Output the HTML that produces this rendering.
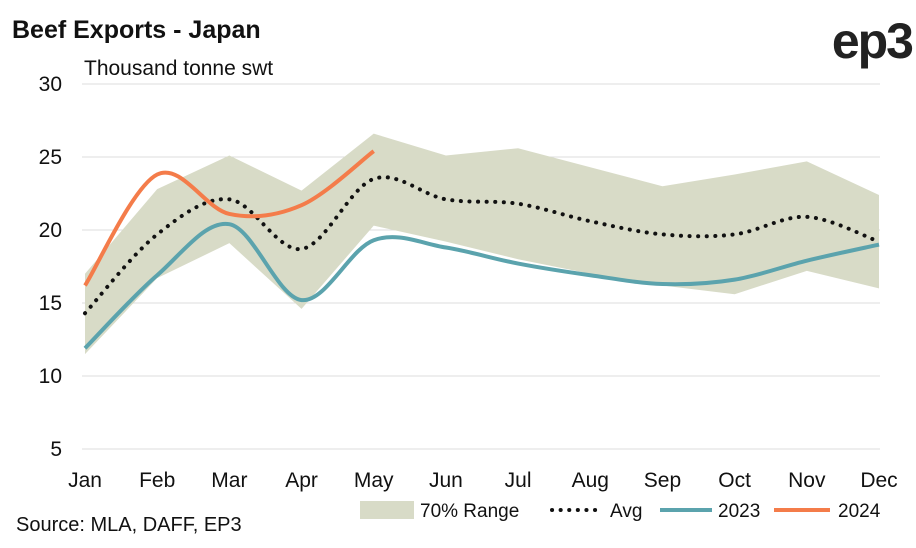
<!DOCTYPE html>
<html><head><meta charset="utf-8">
<style>
body{margin:0;background:#fff;font-family:"Liberation Sans",sans-serif;}
svg text{font-family:"Liberation Sans",sans-serif;}
</style></head><body>
<svg id="chart" width="916" height="543" viewBox="0 0 916 543" xmlns="http://www.w3.org/2000/svg">
<text x="12" y="38" font-size="25" font-weight="bold" fill="#111">Beef Exports - Japan</text>
<text x="912" y="58" font-size="50" font-weight="bold" fill="#222" text-anchor="end" letter-spacing="-2">ep3</text>
<text x="84" y="75" font-size="21" fill="#111">Thousand tonne swt</text>
<g id="grid"></g>
<g id="plot"></g>
<g id="xlabels"></g>
<text x="16" y="531" font-size="20" fill="#111">Source: MLA, DAFF, EP3</text>
<g>
<rect x="360" y="501" width="54" height="18" fill="#d8dbc7"/>
<text x="420" y="517" font-size="19" fill="#111">70% Range</text>
<line x1="552" y1="510" x2="602" y2="510" stroke="#111" stroke-width="4" stroke-dasharray="0.1 8.5" stroke-linecap="round"/>
<text x="610" y="517" font-size="19" fill="#111">Avg</text>
<line x1="660" y1="510" x2="712" y2="510" stroke="#5ba3ad" stroke-width="4"/>
<text x="718" y="517" font-size="19" fill="#111">2023</text>
<line x1="774" y1="510" x2="830" y2="510" stroke="#f47c4a" stroke-width="4"/>
<text x="838" y="517" font-size="19" fill="#111">2024</text>
</g>
</svg>
<script>
const months=["Jan","Feb","Mar","Apr","May","Jun","Jul","Aug","Sep","Oct","Nov","Dec"];
const yTicks=[5,10,15,20,25,30];
const rangeUpper=[17,22.8,25.1,22.7,26.6,25.1,25.6,24.3,23,23.8,24.7,22.4];
const rangeLower=[11.5,16.7,19.1,14.6,20.3,19.2,18,17,16.2,15.6,17.2,16];
const avg=[14.3,19.7,22.1,18.7,23.5,22.1,21.8,20.6,19.7,19.7,20.9,19.2];
const s2023=[11.9,16.9,20.4,15.2,19.3,18.8,17.7,16.9,16.3,16.6,17.9,19];
const s2024=[16.2,23.8,21.1,21.7,25.4];
const NS="http://www.w3.org/2000/svg";
const x=i=>85+i*(879-85)/11;
const y=v=>449-(v-5)*14.6;
function mk(tag,attrs,parent){const e=document.createElementNS(NS,tag);for(const k in attrs)e.setAttribute(k,attrs[k]);parent.appendChild(e);return e;}
function curve(vals){
  const p=vals.map((v,i)=>[x(i),y(v)]);
  let d="M"+p[0][0]+","+p[0][1];
  for(let i=0;i<p.length-1;i++){
    const p0=p[i-1]||p[i],p1=p[i],p2=p[i+1],p3=p[i+2]||p2;
    const c1=[p1[0]+(p2[0]-p0[0])/6,p1[1]+(p2[1]-p0[1])/6];
    const c2=[p2[0]-(p3[0]-p1[0])/6,p2[1]-(p3[1]-p1[1])/6];
    d+=`C${c1[0]},${c1[1]} ${c2[0]},${c2[1]} ${p2[0]},${p2[1]}`;
  }
  return d;
}
const grid=document.getElementById('grid'),plot=document.getElementById('plot'),xl=document.getElementById('xlabels');
yTicks.forEach(t=>{
  const l=mk('line',{x1:82,x2:880,y1:y(t),y2:y(t),stroke:"#dcdcdc","stroke-width":1},grid);
  
  
  const tx=mk('text',{x:62,y:y(t)+7,"font-size":21,fill:"#111","text-anchor":"end"},grid);
  tx.textContent=t;
  
  
});
months.forEach((m,i)=>{
  const tx=mk('text',{x:x(i),y:487,"font-size":21,fill:"#111","text-anchor":"middle"},xl);
  tx.textContent=m;
  
  
});
const pts=rangeUpper.map((v,i)=>x(i)+","+y(v)).concat(rangeLower.map((v,i)=>x(i)+","+y(v)).reverse());
const band=mk('polygon',{points:pts.join(" "),fill:"#d8dbc7"},plot);


const a=mk('path',{d:curve(avg),fill:"none",stroke:"#111","stroke-width":4,"stroke-dasharray":"0.1 8.5","stroke-linecap":"round"},plot);


const l23=mk('path',{d:curve(s2023),fill:"none",stroke:"#5ba3ad","stroke-width":4},plot);


const l24=mk('path',{d:curve(s2024),fill:"none",stroke:"#f47c4a","stroke-width":4},plot);


</script>
</body></html>
